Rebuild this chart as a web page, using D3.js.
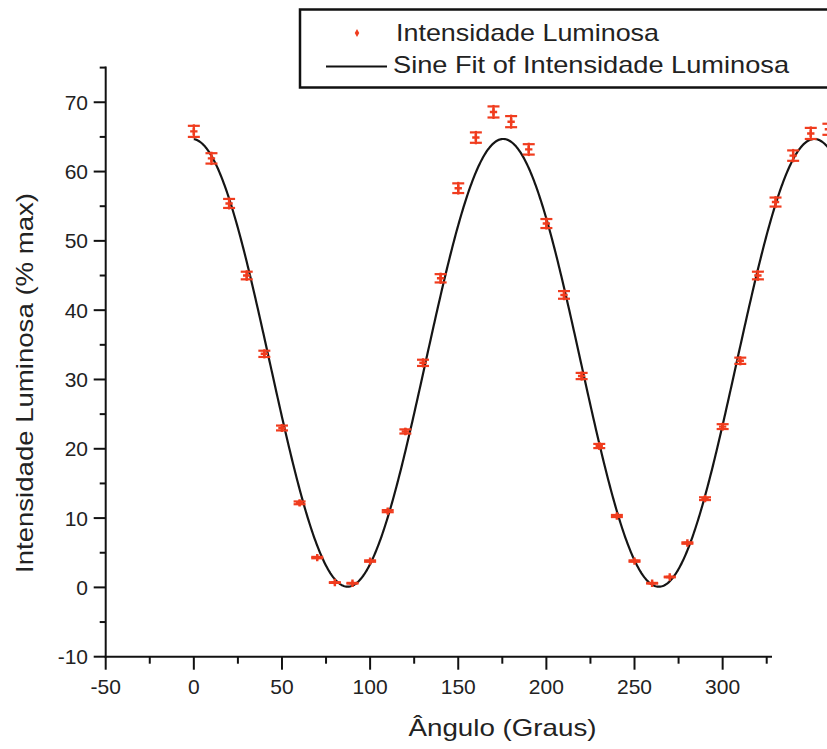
<!DOCTYPE html>
<html>
<head>
<meta charset="utf-8">
<script src="https://cdn.jsdelivr.net/npm/d3@7"></script>
<style>
  html, body { margin: 0; padding: 0; background: #fff; }
  svg { display: block; }
  text { font-family: "Liberation Sans", Arial, sans-serif; fill: #222; }
</style>
</head>
<body>
<div id="chart"></div>
<script>
// ---- data ----
const angles = [0, 10, 20, 30, 40, 50, 60, 70, 80, 90, 100, 110, 120, 130, 140, 150, 160, 170, 180,
                190, 200, 210, 220, 230, 240, 250, 260, 270, 280, 290, 300, 310, 320, 330, 340, 350, 360];
const intensity = [65.8, 61.9, 55.4, 45.0, 33.7, 23.0, 12.2, 4.3, 0.7, 0.6, 3.8, 11.0, 22.5, 32.4, 44.6, 57.6, 64.9, 68.6, 67.2,
                   63.2, 52.5, 42.2, 30.5, 20.4, 10.3, 3.8, 0.6, 1.5, 6.4, 12.8, 23.2, 32.7, 45.0, 55.6, 62.3, 65.5, 66.1];
const errors = [0.8, 0.75, 0.65, 0.55, 0.45, 0.35, 0.2, 0.1, 0.05, 0.05, 0.1, 0.15, 0.3, 0.45, 0.6, 0.7, 0.75, 0.8, 0.8,
                0.75, 0.65, 0.55, 0.45, 0.3, 0.15, 0.1, 0.05, 0.05, 0.1, 0.2, 0.35, 0.45, 0.55, 0.65, 0.75, 0.8, 0.8];
// Sine fit parameters: y = y0 + A*sin(pi*(x - xc)/w)
const fitParams = { y0: 32.4, A: 32.3, xc: 131.4, w: 88.25 };
const fitRange = [0, 362];
const xTicks = [-50, 0, 50, 100, 150, 200, 250, 300];
const xMinorTicks = [-25, 25, 75, 125, 175, 225, 275, 325];
const yTicks = [-10, 0, 10, 20, 30, 40, 50, 60, 70];
const yMinorTicks = [-5, 5, 15, 25, 35, 45, 55, 65, 75];
const legendLabels = ["Intensidade Luminosa", "Sine Fit of Intensidade Luminosa"];
const xTitle = "Ângulo (Graus)";
const yTitle = "Intensidade Luminosa (% max)";

// ---- drawing ----
const W = 827, H = 749;
const red = "#f03c1e";
const svg = d3.select("#chart").append("svg").attr("width", W).attr("height", H);

const x = d3.scaleLinear().domain([-50, 328]).range([105.7, 772]);
const y = d3.scaleLinear().domain([-10, 75]).range([656.7, 67.6]);

// axes lines
const axisG = svg.append("g").attr("stroke", "#111").attr("stroke-width", 2).attr("fill", "none");
axisG.append("line").attr("x1", x(-50)).attr("x2", x(-50)).attr("y1", y(75) - 1).attr("y2", y(-10) + 1);
axisG.append("line").attr("x1", x(-50) - 1).attr("x2", x(328)).attr("y1", y(-10)).attr("y2", y(-10));

// x ticks
axisG.selectAll(".xmaj").data(xTicks).join("line")
  .attr("x1", d => x(d)).attr("x2", d => x(d)).attr("y1", y(-10)).attr("y2", y(-10) + 13);
axisG.selectAll(".xmin").data(xMinorTicks).join("line")
  .attr("x1", d => x(d)).attr("x2", d => x(d)).attr("y1", y(-10)).attr("y2", y(-10) + 7);
// y ticks
axisG.selectAll(".ymaj").data(yTicks).join("line")
  .attr("y1", d => y(d)).attr("y2", d => y(d)).attr("x1", x(-50)).attr("x2", x(-50) - 12);
axisG.selectAll(".ymin").data(yMinorTicks).join("line")
  .attr("y1", d => y(d)).attr("y2", d => y(d)).attr("x1", x(-50)).attr("x2", x(-50) - 6);

// tick labels
svg.append("g").selectAll("text").data(xTicks).join("text")
  .attr("x", d => x(d)).attr("y", 694)
  .attr("text-anchor", "middle").attr("font-size", 21)
  .text(d => d);
svg.append("g").selectAll("text").data(yTicks).join("text")
  .attr("x", 88).attr("y", d => y(d) + 7.5)
  .attr("text-anchor", "end").attr("font-size", 21)
  .text(d => d);

// axis titles
svg.append("text").attr("x", 502.5).attr("y", 736)
  .attr("text-anchor", "middle").attr("font-size", 24)
  .attr("textLength", 188).attr("lengthAdjust", "spacingAndGlyphs")
  .text(xTitle);
svg.append("text")
  .attr("transform", "translate(33,383) rotate(-90)")
  .attr("text-anchor", "middle").attr("font-size", 24)
  .attr("textLength", 380).attr("lengthAdjust", "spacingAndGlyphs")
  .text(yTitle);

// fit curve
const fitFn = v => fitParams.y0 + fitParams.A * Math.sin(Math.PI * (v - fitParams.xc) / fitParams.w);
const fitX = d3.range(fitRange[0], fitRange[1] + 0.5, 0.5);
svg.append("path")
  .datum(fitX)
  .attr("fill", "none").attr("stroke", "#151515").attr("stroke-width", 2.2)
  .attr("d", d3.line().x(d => x(d)).y(d => y(fitFn(d))));

// data points with error bars
const pts = angles.map((a, i) => ({ a, v: intensity[i], e: errors[i] }));
const pg = svg.append("g").attr("stroke", red).attr("stroke-width", 2.2).attr("fill", "none");
const g = pg.selectAll("g").data(pts).join("g");
g.append("line")
  .attr("x1", d => x(d.a)).attr("x2", d => x(d.a))
  .attr("y1", d => y(d.v + d.e) - 1.5).attr("y2", d => y(d.v - d.e) + 1.5);
g.append("line")
  .attr("x1", d => x(d.a) - 6).attr("x2", d => x(d.a) + 6)
  .attr("y1", d => y(d.v + d.e)).attr("y2", d => y(d.v + d.e));
g.append("line")
  .attr("x1", d => x(d.a) - 6).attr("x2", d => x(d.a) + 6)
  .attr("y1", d => y(d.v - d.e)).attr("y2", d => y(d.v - d.e));
g.append("path")
  .attr("transform", d => `translate(${x(d.a)},${y(d.v)})`)
  .attr("d", d3.symbol(d3.symbolCross, 30)())
  .attr("fill", red).attr("stroke", "none");

// legend
const lg = svg.append("g");
lg.append("rect").attr("x", 300).attr("y", 9.5).attr("width", 560).attr("height", 78)
  .attr("fill", "#fff").attr("stroke", "#111").attr("stroke-width", 2.5);
lg.append("path").attr("transform", "translate(357,33)")
  .attr("d", d3.symbol(d3.symbolDiamond, 18)()).attr("fill", red);
lg.append("text").attr("x", 396).attr("y", 41).attr("font-size", 24)
  .attr("textLength", 263).attr("lengthAdjust", "spacingAndGlyphs").text(legendLabels[0]);
lg.append("line").attr("x1", 326).attr("x2", 387).attr("y1", 66.5).attr("y2", 66.5)
  .attr("stroke", "#111").attr("stroke-width", 2);
lg.append("text").attr("x", 393).attr("y", 73).attr("font-size", 24)
  .attr("textLength", 396).attr("lengthAdjust", "spacingAndGlyphs").text(legendLabels[1]);
</script>
</body>
</html>
